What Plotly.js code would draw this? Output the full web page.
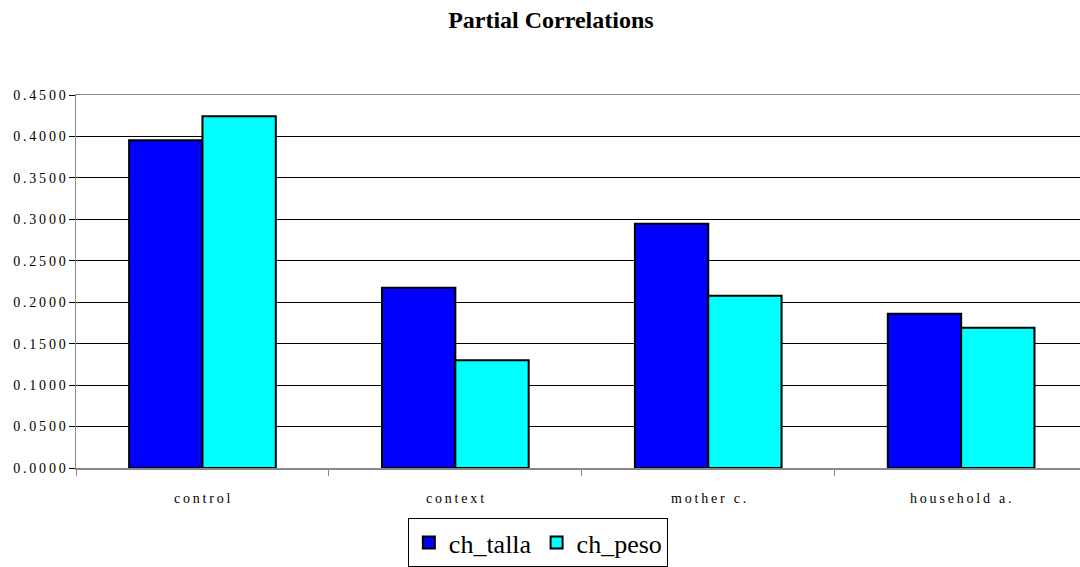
<!DOCTYPE html>
<html><head><meta charset="utf-8">
<script src="https://cdn.plot.ly/plotly-3.0.1.min.js"></script>
<style>html,body{margin:0;padding:0;overflow:hidden;background:#fff}</style>
</head><body><div id="chart" style="width:1080px;height:567px"></div>
<script>
const categories = ["control", "context", "mother c.", "household a."];
const chTalla = [0.3955, 0.2174, 0.2948, 0.1860];
const chPeso = [0.4244, 0.1300, 0.2078, 0.1693];
const yTicks = [0, 0.05, 0.10, 0.15, 0.20, 0.25, 0.30, 0.35, 0.40, 0.45];

const serif = "Liberation Serif";
const spaced = s => s.split("").join("\u2009");
const data = [
  {type: "bar", name: "ch_talla", x: categories, y: chTalla,
   marker: {color: "#0000FF", line: {color: "#000", width: 2}}},
  {type: "bar", name: "ch_peso", x: categories, y: chPeso,
   marker: {color: "#00FFFF", line: {color: "#000", width: 2}}}
];
const layout = {
  width: 1080, height: 567,
  margin: {l: 76, r: 0, t: 95, b: 96},
  paper_bgcolor: "#fff", plot_bgcolor: "#fff",
  barmode: "group", bargap: 0.42, bargroupgap: 0,
  title: {text: "<b>Partial Correlations</b>", x: 0.473, xref: "paper", y: 0.98, yanchor: "top",
          font: {family: serif, size: 24, color: "#000"}},
  xaxis: {range: [-0.5, 3.47], showgrid: false, showline: true, mirror: true, linecolor: "#888", linewidth: 1.5,
          tickmode: "array", tickvals: [-0.5, 0.5, 1.5, 2.5, 3.5], ticktext: ["", "", "", "", ""],
          ticks: "outside", ticklen: 6, tickcolor: "#888", fixedrange: true},
  yaxis: {range: [0, 0.45], tickmode: "array", tickvals: yTicks,
          ticktext: yTicks.map(v => spaced(v.toFixed(4))),
          showgrid: true, gridcolor: "#000", gridwidth: 1, zeroline: false,
          showline: true, linecolor: "#888", linewidth: 1.5, ticks: "outside", ticklen: 6, tickcolor: "#000",
          tickfont: {family: serif, size: 14, color: "#000"}},
  font: {family: serif, size: 14, color: "#000"},
  legend: {orientation: "h", x: 0.46, xanchor: "center", y: -0.135, yanchor: "top",
           bordercolor: "#000", borderwidth: 1, font: {family: serif, size: 26, color: "#000"},
           itemwidth: 30, tracegroupgap: 0},
  annotations: categories.map((c, i) => ({x: i, y: 0, xref: "x", yref: "y", yshift: -30, text: spaced(c),
      showarrow: false, font: {family: serif, size: 14, color: "#000"}}))
};
Plotly.newPlot("chart", data, layout, {displayModeBar: false, staticPlot: true});
</script></body></html>
